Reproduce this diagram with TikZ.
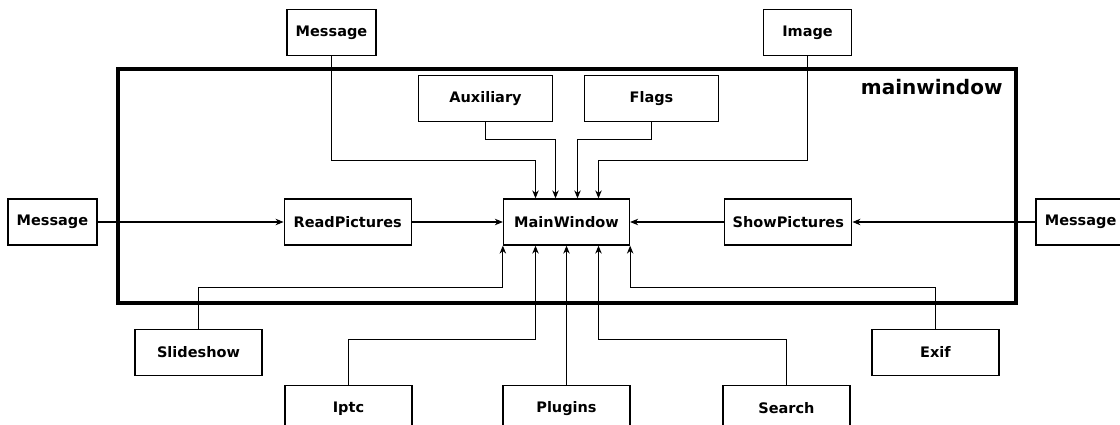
\documentclass[tikz,border=0pt]{standalone}
\usepackage{fontspec}
\setmainfont{DejaVu Sans}
\usetikzlibrary{arrows.meta, positioning}

\begin{document}
\begin{tikzpicture}[
        x=1pt, y=1pt,
        font=\bfseries\fontsize{14.5}{17}\selectfont,
        block/.style={rectangle, draw, line width=1.3pt, text centered, inner sep=0pt, minimum height=46pt, minimum width=127pt},
        frame/.style={draw, line width=3.6pt},
        line/.style={draw, -{Stealth[length=8pt,width=6.5pt]}, line width=1pt},
        link/.style={draw, line width=1pt}
    ]

    \useasboundingbox (0,0) rectangle (1120,-425);

    % frame
    \path[frame] (118,-69) rectangle (1016,-303);
    \node[anchor=base east, font=\bfseries\fontsize{20}{24}\selectfont] (title) at (1006,-95) {mainwindow};

    % nodes
    \node[block, minimum width=126pt] (main) at (566.5,-222) {MainWindow};
    \node[block, left=91pt of main] (read) {ReadPictures};
    \node[block, right=94pt of main] (show) {ShowPictures};
    \node[block, left=186pt of read, minimum width=89pt] (msgL) {Message};
    \node[block, right=183pt of show, minimum width=89pt] (msgR) {Message};
    \node[block, above=76pt of main, xshift=-81pt, minimum width=134pt] (aux) {Auxiliary};
    \node[block, above=76pt of main, xshift=85pt, minimum width=134pt] (flags) {Flags};
    \node[block, above=142pt of main, xshift=-235pt, minimum width=89pt] (msgT) {Message};
    \node[block, above=142pt of main, xshift=241pt, minimum width=88pt] (image) {Image};
    \node[block, below=83pt of main, xshift=-368pt] (slide) {Slideshow};
    \node[block, below=83pt of main, xshift=369pt] (exif) {Exif};
    \node[block, below=139pt of main, xshift=-218pt] (iptc) {Iptc};
    \node[block, below=139pt of main] (plugins) {Plugins};
    \node[block, below=139pt of main, xshift=220pt] (search) {Search};

    % lines
    \path[line] (msgL.east) -- (read.west);
    \path[line] (read.east) -- (main.west);
    \path[line] (msgR.west) -- (show.east);
    \path[line] (show.west) -- (main.east);

    \path[line] (msgT.south) |- ([xshift=-31pt, yshift=38pt]main.north) -- ([xshift=-31pt]main.north);
    \path[line] (aux.south) |- ([xshift=-11pt, yshift=59pt]main.north) -- ([xshift=-11pt]main.north);
    \path[line] (flags.south) |- ([xshift=11pt, yshift=59pt]main.north) -- ([xshift=11pt]main.north);
    \path[line] (image.south) |- ([xshift=32pt, yshift=38pt]main.north) -- ([xshift=32pt]main.north);

    \path[line] (slide.north) |- ([yshift=-42pt]main.south west) -- (main.south west);
    \path[line] (iptc.north) |- ([xshift=-31pt, yshift=-94pt]main.south) -- ([xshift=-31pt]main.south);
    \path[line] (plugins.north) -- (main.south);
    \path[line] (search.north) |- ([xshift=32pt, yshift=-94pt]main.south) -- ([xshift=32pt]main.south);
    \path[line] (exif.north) |- ([yshift=-42pt]main.south east) -- (main.south east);

\end{tikzpicture}
\end{document}
